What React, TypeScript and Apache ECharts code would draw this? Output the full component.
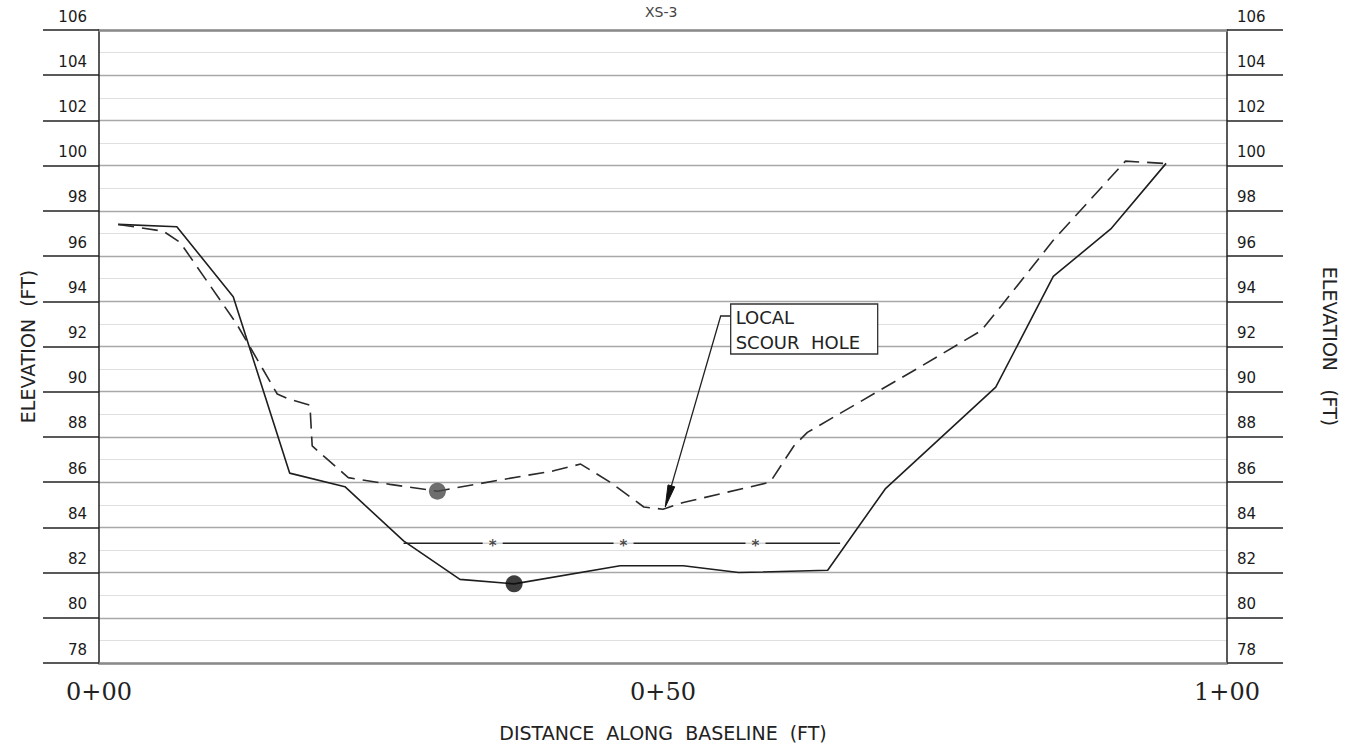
import React, { useEffect, useRef } from 'react';
import * as echarts from 'echarts';

// ---- data ----
const TITLE = 'XS-3';
const X_TICKS = [0, 50, 100];
const X_TICK_LABELS = ['0+00', '0+50', '1+00'];
const Y_MIN = 78;
const Y_MAX = 106;
const Y_STEP = 2;

// existing ground (solid)
const SOLID_X = [1.7, 6.9, 11.9, 16.9, 21.8, 27.0, 32.0, 36.8, 46.2, 51.8, 56.7, 64.6, 69.7, 79.5, 84.6, 89.7, 94.6];
const SOLID_Y = [97.4, 97.3, 94.2, 86.4, 85.8, 83.4, 81.7, 81.5, 82.3, 82.3, 82.0, 82.1, 85.7, 90.2, 95.1, 97.2, 100.1];

// previous survey (dashed)
const DASHED_X = [1.7, 5.7, 7.2, 12.2, 15.8, 16.7, 18.7, 18.9, 22.1, 25.8, 30.0, 35.6, 40.3, 42.7, 45.3, 48.3, 50.0, 51.8, 59.5, 61.6, 62.8, 72.8, 78.2, 80.0, 84.6, 91.0, 94.4];
const DASHED_Y = [97.4, 97.1, 96.6, 93.0, 89.9, 89.7, 89.4, 87.6, 86.2, 85.9, 85.6, 86.1, 86.5, 86.8, 86.0, 84.9, 84.8, 85.1, 86.0, 87.6, 88.2, 91.1, 92.7, 93.8, 96.7, 100.2, 100.1];

// water surface
const WS_X = [27.0, 65.7];
const WS_ELEV = 83.3;
const WS_MARK_X = [34.9, 46.5, 58.2];

// thalweg points
const GRAY_POINT = [30.0, 85.6];
const BLACK_POINT = [36.8, 81.5];

// annotation
const NOTE_LINES = ['LOCAL', 'SCOUR  HOLE'];
const NOTE_ANCHOR = [56.0, 93.35];
const NOTE_TIP = [50.2, 84.9];

const SANS = '"DejaVu Sans", sans-serif';

export default function App() {
  const ref = useRef<HTMLDivElement>(null);

  useEffect(() => {
    document.body.style.margin = '0';
    if (!ref.current) return;
    const chart = echarts.init(ref.current, null, { renderer: 'svg' });

    const yLabelBase = {
      fontFamily: SANS,
      fontSize: 15,
      color: '#1a1a1a',
      verticalAlign: 'bottom',
      padding: [0, 0, 6, 0],
    };

    const yBase: any = {
      type: 'value',
      min: Y_MIN,
      max: Y_MAX,
      interval: Y_STEP,
      axisLine: { show: true, onZero: false, lineStyle: { color: '#222', width: 1.5 } },
      axisTick: { show: true, inside: false, length: 56, lineStyle: { color: '#222', width: 1.5 } },
      nameLocation: 'middle',
      nameTextStyle: { fontFamily: SANS, fontSize: 19, color: '#222' },
    };

    chart.setOption({
      animation: false,
      backgroundColor: '#fff',
      title: {
        text: TITLE,
        left: 640,
        top: 0,
        textStyle: { fontFamily: SANS, fontSize: 14, fontWeight: 'normal', color: '#444' },
      },
      grid: { left: 99, right: 125, top: 30, bottom: 89, containLabel: false },
      xAxis: [
        {
          type: 'value',
          min: 0,
          max: 100,
          interval: 50,
          position: 'bottom',
          axisLine: { show: true, onZero: false, lineStyle: { color: '#8a8a8a', width: 2.5 } },
          axisTick: { show: false },
          splitLine: { show: false },
          axisLabel: {
            formatter: (v: number) => X_TICK_LABELS[X_TICKS.indexOf(v)] ?? '',
            fontFamily: '"DejaVu Serif", serif',
            fontSize: 24,
            color: '#222',
            margin: 17,
          },
          name: 'DISTANCE  ALONG  BASELINE  (FT)',
          nameLocation: 'middle',
          nameGap: 60,
          nameTextStyle: { fontFamily: SANS, fontSize: 19, color: '#222' },
        },
        {
          type: 'value',
          min: 0,
          max: 100,
          position: 'top',
          axisLine: { show: true, onZero: false, lineStyle: { color: '#8a8a8a', width: 2.5 } },
          axisTick: { show: false },
          axisLabel: { show: false },
          splitLine: { show: false },
        },
      ],
      yAxis: [
        {
          ...yBase,
          position: 'left',
          name: 'ELEVATION  (FT)',
          nameRotate: 90,
          nameGap: 62,
          axisLabel: { ...yLabelBase, align: 'right', margin: 12 },
          splitLine: { show: true, lineStyle: { color: '#a8a8a8', width: 1.3 } },
          minorTick: { show: false, splitNumber: 2 },
          minorSplitLine: { show: true, lineStyle: { color: '#e0e0e0', width: 1 } },
        },
        {
          ...yBase,
          position: 'right',
          name: 'ELEVATION   (FT)',
          nameRotate: -90,
          nameGap: 93,
          axisLabel: { ...yLabelBase, align: 'left', margin: 10 },
          splitLine: { show: false },
        },
      ],
      series: [
        {
          type: 'line',
          data: SOLID_X.map((x, i) => [x, SOLID_Y[i]]),
          symbol: 'none',
          silent: true,
          lineStyle: { color: '#1e1e1e', width: 1.6 },
          z: 3,
        },
        {
          type: 'line',
          data: DASHED_X.map((x, i) => [x, DASHED_Y[i]]),
          symbol: 'none',
          silent: true,
          lineStyle: { color: '#2a2a2a', width: 1.6, type: [16, 8] },
          z: 3,
        },
        {
          type: 'line',
          data: WS_X.map((x) => [x, WS_ELEV]),
          symbol: 'none',
          silent: true,
          lineStyle: { color: '#222', width: 1.6 },
          z: 3,
        },
        {
          type: 'scatter',
          data: WS_MARK_X.map((x) => [x, WS_ELEV]),
          symbol: 'rect',
          symbolSize: [20, 6],
          silent: true,
          itemStyle: { color: '#fff' },
          label: {
            show: true,
            position: 'inside',
            formatter: '*',
            color: '#222',
            fontFamily: SANS,
            fontSize: 15,
            fontWeight: 'bold',
            offset: [0, 3],
          },
          z: 4,
        },
        {
          type: 'scatter',
          data: [GRAY_POINT],
          symbol: 'circle',
          symbolSize: 17,
          silent: true,
          itemStyle: { color: '#4a4a4a' },
          z: 5,
        },
        {
          type: 'scatter',
          data: [BLACK_POINT],
          symbol: 'circle',
          symbolSize: 17,
          silent: true,
          itemStyle: { color: '#0d0d0d' },
          z: 5,
        },
      ],
    });

    // annotation drawn at data-anchored pixel positions
    const px = (pt: number[]) => chart.convertToPixel({ gridIndex: 0 }, pt) as number[];
    const a = px(NOTE_ANCHOR);
    const t = px(NOTE_TIP);
    const elbow = [a[0] - 10, a[1]];
    const dx = t[0] - elbow[0];
    const dy = t[1] - elbow[1];
    const len = Math.hypot(dx, dy) || 1;
    const ux = dx / len;
    const uy = dy / len;
    const base = [t[0] - ux * 22, t[1] - uy * 22];
    const nx = -uy * 3.5;
    const ny = ux * 3.5;
    const boxTop = a[1] - 12;

    chart.setOption({
      graphic: [
        {
          type: 'polyline',
          shape: { points: [a, elbow, base] },
          style: { stroke: '#222', lineWidth: 1.3, fill: null },
          z: 10,
        },
        {
          type: 'polygon',
          shape: { points: [t, [base[0] + nx, base[1] + ny], [base[0] - nx, base[1] - ny]] },
          style: { fill: '#111', stroke: '#111', lineWidth: 1 },
          z: 10,
        },
        {
          type: 'rect',
          shape: { x: a[0], y: boxTop, width: 147, height: 50 },
          style: { fill: '#fff', stroke: '#333', lineWidth: 1.3 },
          z: 10,
        },
        {
          type: 'text',
          x: a[0] + 5,
          y: boxTop + 1,
          style: {
            text: NOTE_LINES.join('\n'),
            fontFamily: SANS,
            fontSize: 18,
            lineHeight: 25,
            fill: '#222',
          },
          z: 11,
        },
      ],
    });

    return () => chart.dispose();
  }, []);

  return <div ref={ref} style={{ width: 1352, height: 752 }} />;
}
